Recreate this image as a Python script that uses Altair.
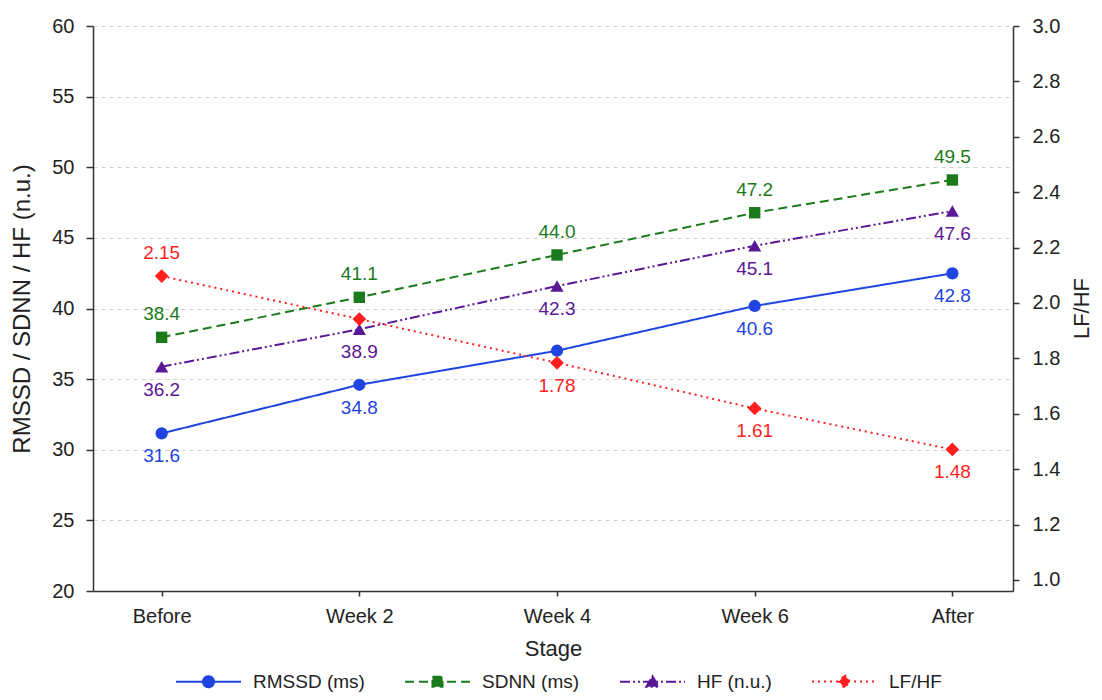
import json
import altair as alt
import pandas as pd

# ---------------- data ----------------
STAGES = ["Before", "Week 2", "Week 4", "Week 6", "After"]
SERIES = ["RMSSD (ms)", "SDNN (ms)", "HF (n.u.)", "LF/HF"]

RMSSD = [31.16, 34.60, 37.01, 40.18, 42.49]
RMSSD_LABELS = ["31.6", "34.8", "", "40.6", "42.8"]
SDNN = [37.96, 40.79, 43.79, 46.78, 49.10]
SDNN_LABELS = ["38.4", "41.1", "44.0", "47.2", "49.5"]
HF = [35.88, 38.53, 41.59, 44.44, 46.90]
HF_LABELS = ["36.2", "38.9", "42.3", "45.1", "47.6"]
LFHF = [2.097, 1.942, 1.784, 1.619, 1.471]
LFHF_LABELS = ["2.15", "", "1.78", "1.61", "1.48"]

LEFT_TICKS = [20, 25, 30, 35, 40, 45, 50, 55, 60]
RIGHT_TICKS = [1.0, 1.2, 1.4, 1.6, 1.8, 2.0, 2.2, 2.4, 2.6, 2.8, 3.0]

# ---------------- styles ----------------
FONT = "Liberation Sans"
COLORS = ["#1f44e0", "#1b7a1b", "#5a1896", "#ff1f1f"]
DASHES = [[1, 0], [9, 5], [10, 3, 2, 3, 2, 3], [2, 4]]
SHAPES = ["circle", "square", "triangle-up", "diamond"]
SIZES = [150, 130, 175, 190]
LEGEND_PATHS = [
    "M-1,0H1M0.17,0A0.17,0.17,0,1,1,-0.17,0A0.17,0.17,0,1,1,0.17,0Z",
    "M-1,0H1M-0.155,-0.155H0.155V0.155H-0.155Z",
    "M-1,0H1M0,-0.17L0.19,0.15H-0.19Z",
    "M-1,0H1M0,-0.2L0.17,0L0,0.2L-0.17,0Z",
]
LABEL_ABOVE = {("SDNN (ms)", s) for s in STAGES} | {("LF/HF", "Before")}


def frame(series, values, labels):
    df = pd.DataFrame({"stage": STAGES, "series": series, "value": values, "label": labels})
    df["above"] = [(series, s) in LABEL_ABOVE for s in STAGES]
    return df


frames = [
    frame(SERIES[0], RMSSD, RMSSD_LABELS),
    frame(SERIES[1], SDNN, SDNN_LABELS),
    frame(SERIES[2], HF, HF_LABELS),
    frame(SERIES[3], LFHF, LFHF_LABELS),
]

idx = f"indexof({json.dumps(SERIES)}, datum.value)"
legend = alt.Legend(
    title=None,
    orient="none",
    legendX=82,
    legendY=622,
    direction="horizontal",
    padding=0,
    symbolSize=4225,
    symbolStrokeWidth=2,
    symbolOpacity=1,
    symbolType=alt.ExprRef(expr=f"{json.dumps(LEGEND_PATHS)}[{idx}]"),
    symbolDash=alt.ExprRef(expr=f"{json.dumps(DASHES)}[{idx}]"),
    symbolFillColor=alt.ExprRef(expr=f"{json.dumps(COLORS)}[{idx}]"),
    symbolStrokeColor=alt.ExprRef(expr=f"{json.dumps(COLORS)}[{idx}]"),
    labelFont=FONT,
    labelFontSize=19,
    labelColor="#222222",
    labelOffset=11,
    columnPadding=36,
)

x = alt.X(
    "stage:N",
    sort=STAGES,
    scale=alt.Scale(type="point", padding=0.327, align=0.531),
    axis=alt.Axis(title="Stage", labelAngle=0, tickSize=5, labelPadding=10,
                  titlePadding=12, grid=False),
)
color = alt.Color("series:N", scale=alt.Scale(domain=SERIES, range=COLORS), legend=legend)

y_left = alt.Y(
    "value:Q",
    scale=alt.Scale(domain=[20, 60], nice=False, zero=False),
    axis=alt.Axis(values=LEFT_TICKS, orient="left", title="RMSSD / SDNN / HF (n.u.)",
                  titleFontSize=24,
                  grid=True, gridColor="#d0d0d0", gridDash=[4, 4], gridWidth=1,
                  tickSize=7, labelPadding=12, titlePadding=17),
)
y_right = alt.Y(
    "value:Q",
    scale=alt.Scale(domain=[0.96, 3.0], nice=False, zero=False),
    axis=alt.Axis(values=RIGHT_TICKS, orient="right", format=".1f", title="LF/HF",
                  grid=False, tickSize=6, labelPadding=13,
                  titleAngle=270, titleX=68, titleY=282, titleAlign="center",
                  titleBaseline="middle"),
)


def series_layers(i, y):
    base = alt.Chart(frames[i])
    line = base.mark_line(strokeWidth=2, strokeDash=DASHES[i]).encode(x=x, y=y, color=color)
    pts = base.mark_point(filled=True, opacity=1, shape=SHAPES[i], size=SIZES[i]).encode(
        x=x, y=y, color=color)
    txt_above = base.transform_filter("datum.label != '' && datum.above").mark_text(
        font=FONT, fontSize=19, baseline="middle", dy=-23
    ).encode(x=x, y=y, text="label:N", color=color)
    txt_below = base.transform_filter("datum.label != '' && !datum.above").mark_text(
        font=FONT, fontSize=19, baseline="middle", dy=23
    ).encode(x=x, y=y, text="label:N", color=color)
    return [line, pts, txt_above, txt_below]


left_layers = [l for i in range(3) for l in series_layers(i, y_left)]
right_layers = series_layers(3, y_right)

chart = (
    alt.layer(alt.layer(*left_layers), alt.layer(*right_layers))
    .resolve_scale(y="independent")
    .properties(
        width=920,
        height=565,
        autosize=alt.AutoSizeParams(type="none"),
        padding={"left": 85, "top": 18, "right": 81, "bottom": 101},
    )
    .configure_view(stroke=None)
    .configure_axis(
        labelFont=FONT, labelFontSize=20, labelColor="#222222",
        titleFont=FONT, titleFontSize=22, titleFontWeight="normal", titleColor="#222222",
        domainColor="#333333", domainWidth=1.5, tickColor="#333333", tickWidth=1.5,
    )
)

chart.save("out.html", embed_options={"renderer": "svg", "actions": False})
